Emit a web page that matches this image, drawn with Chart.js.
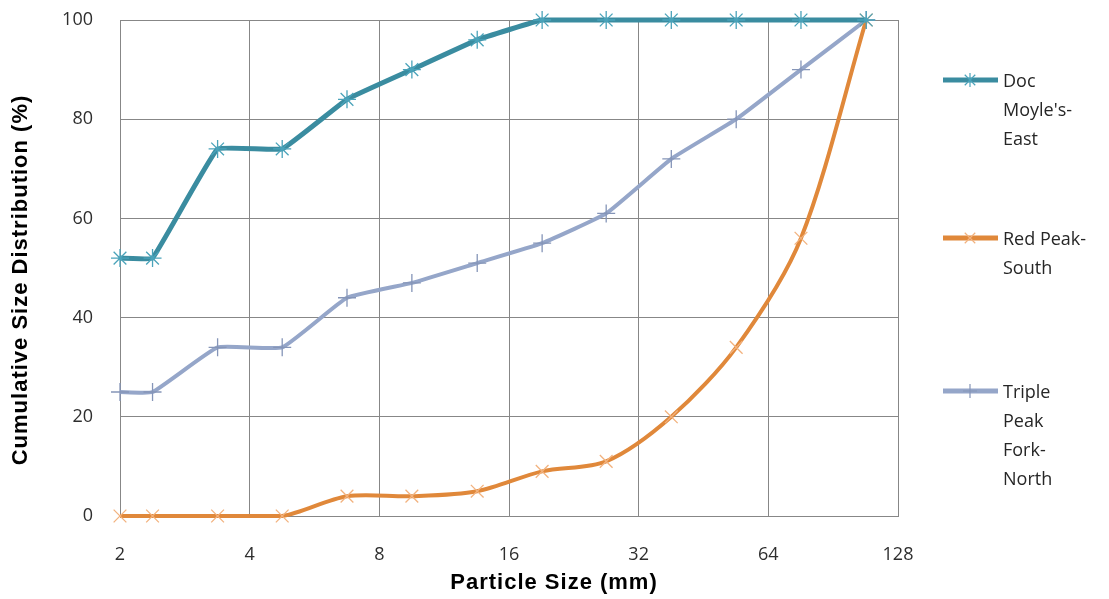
<!DOCTYPE html>
<html>
<head>
<meta charset="utf-8">
<title>Cumulative Size Distribution</title>
<script src="https://cdn.jsdelivr.net/npm/chart.js@4.4.1/dist/chart.umd.min.js"></script>
<style>
  html, body { margin: 0; padding: 0; background: #ffffff; }
  #wrap { position: relative; width: 1109px; height: 599px; }
</style>
</head>
<body>
<div id="wrap"><canvas id="chart" width="1109" height="599"></canvas></div>
<script>
// Sieve sizes (mm) and cumulative percent passing for each site
const sizes = [2, 2.38, 3.37, 4.76, 6.73, 9.52, 13.5, 19.1, 26.9, 38.1, 53.9, 76.2, 108];
const docMoyleEast = [52, 52, 74, 74, 84, 90, 96, 100, 100, 100, 100, 100, 100];
const redPeakSouth = [0, 0, 0, 0, 4, 4, 5, 9, 11, 20, 34, 56, 100];
const triplePeakForkNorth = [25, 25, 34, 34, 44, 47, 51, 55, 61, 72, 80, 90, 100];

const xTicks = [2, 4, 8, 16, 32, 64, 128];
const yTicks = [0, 20, 40, 60, 80, 100];

const seriesNames = [["Doc", "Moyle's-", "East"], ["Red Peak-", "South"], ["Triple", "Peak", "Fork-", "North"]];
const lineColors = ['#3a8ca0', '#e0883a', '#95a6c9'];
const markerColors = ['#4aa3ba', '#f2b27e', '#8595b8'];
const markerStyles = ['star', 'crossRot', 'cross'];
const smoothing = [0.08, 0.3, 0.12];

const toPoints = vals => sizes.map((s, i) => ({ x: s, y: vals[i] }));

const GRID = '#878787';

// Legend entries and axis titles drawn beside the plot area
const decorations = {
  id: 'decorations',
  afterDraw(chart) {
    const ctx = chart.ctx;
    ctx.save();

    // axis titles
    ctx.fillStyle = '#000000';
    ctx.font = 'bold 22px "Liberation Sans", Arial, sans-serif';
    ctx.letterSpacing = '1px';
    ctx.textAlign = 'center';
    ctx.textBaseline = 'middle';
    ctx.fillText('Particle Size (mm)', 554, 583);
    ctx.save();
    ctx.translate(21, 280);
    ctx.rotate(-Math.PI / 2);
    ctx.fillText('Cumulative Size Distribution (%)', 0, 0);
    ctx.restore();
    ctx.letterSpacing = '0px';

    // legend
    const lineY = [80, 238, 391];
    const lineH = 29;
    ctx.font = '18px "Open Sans", sans-serif';
    ctx.textAlign = 'left';
    ctx.fillStyle = '#262626';
    seriesNames.forEach((lines, i) => {
      const y = lineY[i];
      ctx.strokeStyle = lineColors[i];
      ctx.lineWidth = 5;
      ctx.lineCap = 'butt';
      ctx.beginPath();
      ctx.moveTo(943, y);
      ctx.lineTo(998, y);
      ctx.stroke();

      // marker
      const cx = 970, r = 7;
      ctx.strokeStyle = markerColors[i];
      ctx.lineWidth = 1.2;
      ctx.beginPath();
      if (markerStyles[i] === 'star' || markerStyles[i] === 'cross') {
        ctx.moveTo(cx, y - r); ctx.lineTo(cx, y + r);
        if (markerStyles[i] === 'cross') { ctx.moveTo(cx - r, y); ctx.lineTo(cx + r, y); }
      }
      if (markerStyles[i] === 'star' || markerStyles[i] === 'crossRot') {
        const d = r * 0.75;
        ctx.moveTo(cx - d, y - d); ctx.lineTo(cx + d, y + d);
        ctx.moveTo(cx + d, y - d); ctx.lineTo(cx - d, y + d);
      }
      ctx.stroke();

      lines.forEach((t, k) => {
        ctx.fillText(t, 1003, y + 2 + k * lineH);
      });
    });
    ctx.restore();
  }
};

const datasets = [
  { label: "Doc Moyle's-East", data: toPoints(docMoyleEast) },
  { label: 'Red Peak-South', data: toPoints(redPeakSouth) },
  { label: 'Triple Peak Fork-North', data: toPoints(triplePeakForkNorth) }
].map((d, i) => Object.assign(d, {
  borderColor: lineColors[i],
  borderWidth: i === 0 ? 5 : 4,
  pointStyle: markerStyles[i],
  pointRadius: 9,
  pointHoverRadius: 9,
  pointBorderColor: markerColors[i],
  pointBackgroundColor: markerColors[i],
  pointBorderWidth: 1.3,
  tension: smoothing[i],
  fill: false,
  clip: false
}));

new Chart(document.getElementById('chart'), {
  type: 'line',
  data: { datasets },
  options: {
    responsive: false,
    animation: false,
    events: [],
    layout: { autoPadding: false, padding: { left: 0, top: 20, right: 211, bottom: 0 } },
    plugins: {
      legend: { display: false },
      tooltip: { enabled: false },
      title: { display: false }
    },
    scales: {
      x: {
        type: 'logarithmic',
        min: 2,
        max: 128,
        afterBuildTicks(axis) { axis.ticks = xTicks.map(v => ({ value: v })); },
        afterFit(scale) { scale.height = 83; scale.paddingLeft = 0; scale.paddingRight = 0; },
        grid: { color: GRID, lineWidth: 1, drawTicks: false },
        border: { color: GRID, width: 1 },
        ticks: {
          autoSkip: false,
          maxRotation: 0,
          padding: 28,
          color: '#2e2e2e',
          font: { family: '"Open Sans", sans-serif', size: 18 },
          callback: v => String(v)
        }
      },
      y: {
        type: 'linear',
        min: 0,
        max: 100,
        afterBuildTicks(axis) { axis.ticks = yTicks.map(v => ({ value: v })); },
        afterFit(scale) { scale.width = 120; scale.paddingTop = 0; scale.paddingBottom = 0; },
        grid: { color: GRID, lineWidth: 1, drawTicks: false },
        border: { color: GRID, width: 1 },
        ticks: {
          padding: 27,
          color: '#2e2e2e',
          font: { family: '"Open Sans", sans-serif', size: 18 }
        }
      }
    }
  },
  plugins: [decorations]
});
</script>
</body>
</html>
